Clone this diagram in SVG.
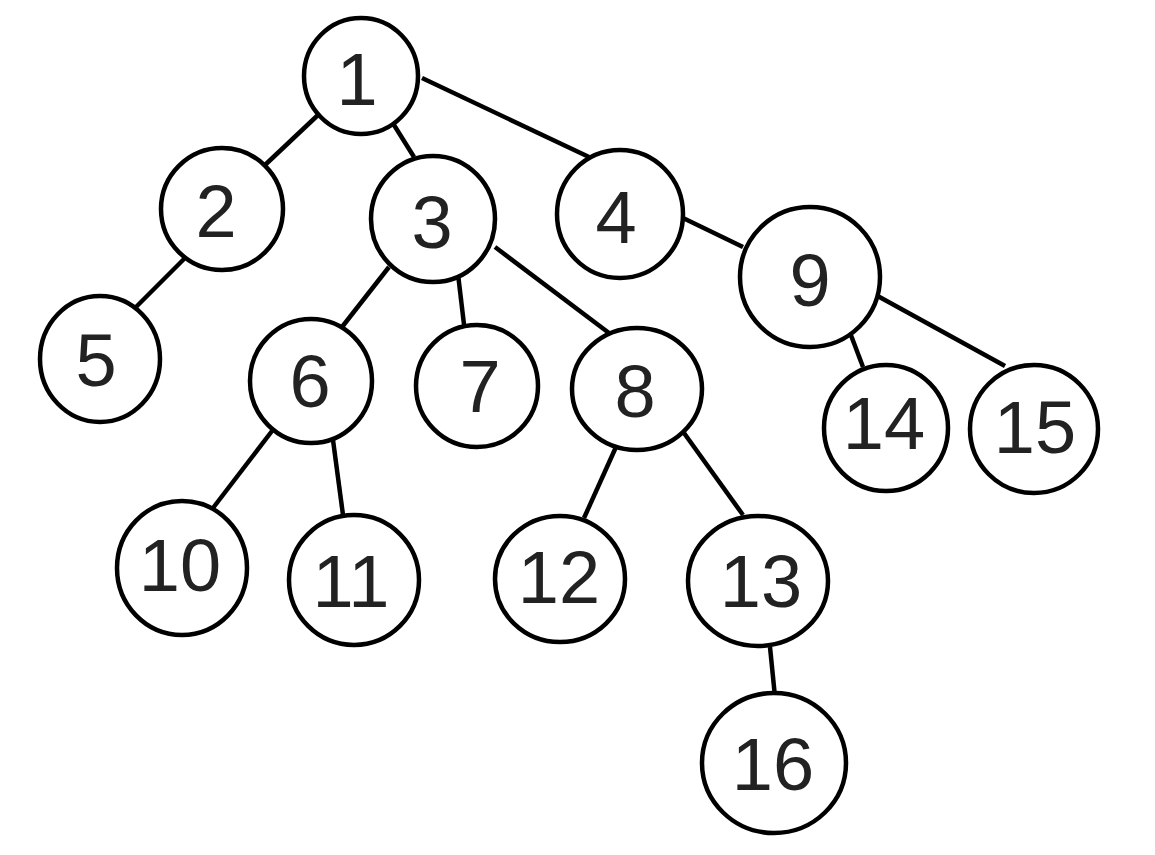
<svg xmlns="http://www.w3.org/2000/svg" width="1155" height="855" viewBox="0 0 1155 855">
<style>
.n ellipse{fill:#fff;stroke:#000;stroke-width:4.5}
.n text{font-family:"Liberation Sans",Arial,sans-serif;font-size:74px;fill:#222;text-anchor:middle}
.e line{stroke:#000;stroke-width:4.5;stroke-linecap:butt}
</style>
<rect width="1155" height="855" fill="#fff"/>
<g class="e" id="edges">
<line x1="318" y1="115" x2="265" y2="165"/>
<line x1="394" y1="125" x2="414" y2="157"/>
<line x1="422" y1="78" x2="589" y2="157"/>
<line x1="683" y1="218" x2="743" y2="247"/>
<line x1="185" y1="258" x2="136" y2="307"/>
<line x1="389" y1="267" x2="342" y2="327"/>
<line x1="458" y1="274" x2="465" y2="333"/>
<line x1="495" y1="247" x2="609" y2="333"/>
<line x1="272" y1="431" x2="213" y2="508"/>
<line x1="333" y1="440" x2="343" y2="515"/>
<line x1="616" y1="447" x2="584" y2="518"/>
<line x1="684" y1="433" x2="743" y2="515"/>
<line x1="849" y1="330" x2="863" y2="367"/>
<line x1="874" y1="294" x2="1005" y2="366"/>
<line x1="770" y1="647" x2="775" y2="697"/>
</g>
<g class="n" id="n1"><ellipse cx="361" cy="76" rx="57" ry="58"/><text x="357" y="105">1</text></g>
<g class="n" id="n2"><ellipse cx="222" cy="209" rx="61" ry="61"/><text x="216" y="237">2</text></g>
<g class="n" id="n3"><ellipse cx="433" cy="219" rx="62" ry="63"/><text x="432" y="248">3</text></g>
<g class="n" id="n4"><ellipse cx="620" cy="214" rx="63" ry="64"/><text x="616" y="243">4</text></g>
<g class="n" id="n5"><ellipse cx="100" cy="359" rx="60" ry="63"/><text x="96" y="386">5</text></g>
<g class="n" id="n6"><ellipse cx="311" cy="381" rx="61" ry="62"/><text x="310" y="407">6</text></g>
<g class="n" id="n7"><ellipse cx="477" cy="386" rx="61" ry="61"/><text x="480" y="412">7</text></g>
<g class="n" id="n8"><ellipse cx="637" cy="389" rx="65" ry="61"/><text x="635" y="417">8</text></g>
<g class="n" id="n9"><ellipse cx="810" cy="277" rx="70" ry="70"/><text x="810" y="306">9</text></g>
<g class="n" id="n10"><ellipse cx="182" cy="568" rx="65" ry="67"/><text x="180" y="591">10</text></g>
<g class="n" id="n11"><ellipse cx="354" cy="580" rx="65" ry="65"/><text x="351" y="607">11</text></g>
<g class="n" id="n12"><ellipse cx="560" cy="579" rx="65" ry="63"/><text x="559" y="603">12</text></g>
<g class="n" id="n13"><ellipse cx="758" cy="581" rx="70" ry="65"/><text x="761" y="607">13</text></g>
<g class="n" id="n14"><ellipse cx="886" cy="428" rx="62" ry="63"/><text x="884" y="449">14</text></g>
<g class="n" id="n15"><ellipse cx="1034" cy="429" rx="64" ry="64"/><text x="1035" y="453">15</text></g>
<g class="n" id="n16"><ellipse cx="774" cy="763" rx="72" ry="70"/><text x="773" y="790">16</text></g>
</svg>
